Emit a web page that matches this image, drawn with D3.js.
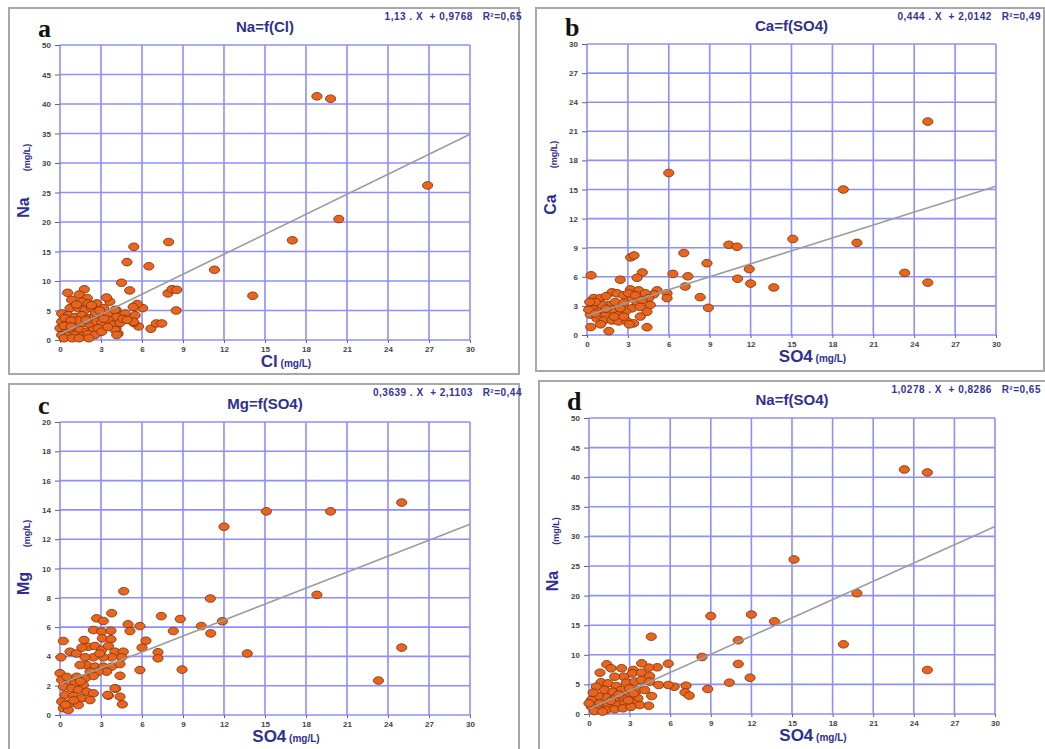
<!DOCTYPE html>
<html>
<head>
<meta charset="utf-8">
<script src="https://cdn.jsdelivr.net/npm/d3@7"></script>
<style>
  body { margin: 0; background: #fff; }
  svg { display: block; font-family: "Liberation Sans", Arial, sans-serif; }
</style>
</head>
<body>
<div id="chart"></div>
<script>
// tick values
const xTicks = [0, 3, 6, 9, 12, 15, 18, 21, 24, 27, 30];
const naTicks = [0, 5, 10, 15, 20, 25, 30, 35, 40, 45, 50];
const caTicks = [0, 3, 6, 9, 12, 15, 18, 21, 24, 27, 30];
const mgTicks = [0, 2, 4, 6, 8, 10, 12, 14, 16, 18, 20];

// panel texts
const panelLetters = ["a", "b", "c", "d"];
const panelTitles = ["Na=f(Cl)", "Ca=f(SO4)", "Mg=f(SO4)", "Na=f(SO4)"];
const yNames = ["Na", "Ca", "Mg", "Na"];
const xNames = ["Cl", "SO4", "SO4", "SO4"];
const fitLabels = [
    "1,13 . X  + 0,9768   R\u00b2=0,65",
    "0,444 . X  + 2,0142   R\u00b2=0,49",
    "0,3639 . X  + 2,1103   R\u00b2=0,44",
    "1,0278 . X  + 0,8286   R\u00b2=0,65"
];
const fitSlopes = [1.13, 0.444, 0.3639, 1.0278];
const fitIntercepts = [0.9768, 2.0142, 2.1103, 0.8286];

// points [x, y] in mg/L
const naClPoints = [
    [18.8,41.3],[19.8,40.9],[26.9,26.2],[20.4,20.5],[17.0,16.9],[14.1,7.5],[11.3,11.9],[7.95,16.6],
    [5.4,15.8],[4.9,13.2],[6.5,12.5],[4.5,9.7],[5.1,8.4],[7.9,7.9],[8.2,8.6],[8.55,8.5],[8.5,5.0],
    [6.65,1.9],[7.05,2.8],[7.45,2.8],[6.05,5.4],[5.65,6.1],[5.35,5.6],[5.75,2.3],[5.4,2.9],[4.25,1.1],
    [4.1,2.0],[4.1,5.1],[3.65,6.5],[3.4,7.2],
    [0.56,8.0],[1.78,8.6],[1.4,7.7],[0.85,6.8],[2.0,7.1],[1.6,6.5],[2.07,6.2],[2.7,6.2],[0.73,5.4],
    [1.34,5.4],[1.83,5.1],[2.32,5.4],[0.12,4.5],[0.6,4.2],[1.1,3.9],[1.6,4.2],[2.07,3.7],[2.56,3.9],
    [3.17,4.2],[3.54,4.5],[4.02,5.1],[4.15,3.9],[4.76,4.5],[5.5,4.2],[5.37,3.1],[0.12,3.1],[0.61,2.9],
    [1.1,2.6],[1.71,2.9],[2.2,2.6],[2.68,3.1],[3.05,2.9],[3.54,3.4],[3.9,2.6],[4.39,2.9],[4.02,1.7],
    [4.15,0.85],[0.0,2.0],[0.49,1.7],[0.98,1.4],[1.46,1.7],[1.95,1.4],[2.44,1.7],[2.8,2.0],[0.12,0.85],
    [0.61,0.7],[1.1,0.85],[1.59,0.7],[2.07,1.0],[2.56,0.85],[3.05,1.4],[0.37,3.7],[2.3,5.9],[1.2,6.0],
    [0.3,0.3],[0.9,0.3],[1.4,0.3],[2.1,0.3],[2.6,4.6],[3.2,3.6],[3.5,2.2],[1.3,3.3],[0.8,3.3],[1.9,3.4],
    [0.3,2.4],[0.8,2.3],[3.2,5.4],[2.9,5.0],[4.6,3.6],[4.9,3.4]
];
const caSo4Points = [
    [25.0,22.0],[6.0,16.7],[18.8,15.0],[15.1,9.9],[19.8,9.5],[10.4,9.3],[11.0,9.1],[23.3,6.4],[25.0,5.4],
    [7.1,8.45],[8.8,7.4],[11.9,6.8],[6.3,6.3],[7.4,6.05],[11.05,5.8],[12.0,5.3],[13.7,4.9],[7.2,5.0],
    [8.3,3.9],[8.9,2.8],[3.2,8.0],[3.45,8.2],[0.3,6.15],[2.44,5.7],[4.06,6.45],[3.67,5.9],[5.87,4.3],
    [5.87,3.8],[5.14,4.6],[4.9,4.2],[4.4,0.8],[1.6,0.4],[0.27,0.82],
    [0.49,3.8],[0.98,3.8],[1.83,4.4],[2.2,4.3],[2.69,4.1],[3.18,4.7],[3.79,4.6],[4.28,4.3],[4.52,3.8],
    [4.64,3.1],[4.4,2.4],[3.91,1.9],[1.59,3.1],[2.08,3.4],[2.69,3.3],[3.3,3.8],[3.67,3.3],[3.3,2.75],
    [2.81,2.4],[2.32,2.1],[1.83,2.6],[1.34,2.2],[0.86,2.6],[0.37,2.9],[0.24,2.1],[0.73,1.7],[1.22,1.5],
    [1.83,1.5],[2.32,1.4],[2.93,1.4],[3.42,1.2],[0.12,2.6],[0.61,2.2],[1.1,3.1],[2.44,2.75],[3.05,4.3],
    [3.54,4.1],[4.03,3.6],[1.4,4.0],[0.6,3.4],[2.0,1.9],[1.0,1.1],[2.7,1.9],[3.9,2.9],[0.2,3.4],
    [3.1,1.1],[1.4,2.7]
];
const mgSo4Points = [
    [25.0,14.5],[15.1,13.9],[19.8,13.9],[12.0,12.85],[18.8,8.2],[11.0,7.95],[4.66,8.45],[3.78,6.95],
    [7.41,6.75],[8.8,6.55],[11.88,6.4],[10.34,6.07],[8.29,5.73],[11.03,5.57],[13.7,4.2],[25.0,4.6],
    [23.3,2.35],[8.93,3.1],[7.17,4.28],[7.17,3.87],[5.85,3.07],[6.29,5.07],[6.0,4.6],[5.85,6.07],
    [4.98,6.19],[5.12,5.73],[4.39,2.68],[4.56,0.73],[4.39,1.25],[4.07,1.8],[3.54,1.32],
    [2.68,6.6],[3.17,6.42],[2.44,5.8],[3.05,5.69],[3.73,5.75],[3.1,5.23],[3.73,5.17],[1.76,5.12],
    [0.24,5.05],[0.07,3.94],[0.73,4.32],[2.07,4.66],[2.56,4.71],[3.05,4.44],[3.54,4.71],[4.02,4.32],
    [4.63,4.32],[4.51,3.94],[3.78,3.94],[3.17,3.94],[2.44,3.94],[1.83,3.94],[1.95,3.41],[2.56,3.3],
    [3.17,3.3],[3.78,3.3],[4.39,3.48],[3.41,2.96],[2.8,2.96],[2.2,2.96],[1.46,3.41],[2.44,2.66],
    [1.83,2.5],[1.22,2.61],[0.0,2.85],[0.12,2.39],[0.61,2.16],[1.1,2.16],[1.71,2.05],[0.24,1.93],
    [0.86,1.82],[1.34,1.71],[1.95,1.59],[2.44,1.48],[0.37,1.37],[0.97,1.3],[1.59,1.14],[2.2,1.02],
    [0.12,0.91],[0.73,0.8],[1.34,0.68],[0.24,0.46],[0.61,0.34],[3.49,1.37],[4.02,1.82],[0.5,2.6],
    [1.0,1.0],[0.4,0.7],[1.5,2.3],[2.9,4.2],[1.2,4.2],[1.6,4.6]
];
const naSo4Points = [
    [23.3,41.3],[25.0,40.8],[15.15,26.1],[19.8,20.4],[12.0,16.8],[9.0,16.55],[13.7,15.65],[4.6,13.06],
    [11.03,12.45],[18.8,11.77],[25.0,7.43],[8.35,9.63],[11.03,8.45],[10.37,5.29],[11.9,6.13],[8.77,4.22],
    [7.17,4.78],[7.09,3.66],[7.41,3.1],[6.3,4.61],[5.86,4.9],[5.86,8.5],[5.15,4.9],[5.05,7.89],
    [4.43,7.83],[3.89,8.56],[4.41,1.4],[4.63,3.04],[4.43,5.86],[3.27,7.43],[2.41,7.72],[1.31,8.39],
    [1.63,7.72],[0.81,6.98],[0.89,5.35],
    [3.2,6.87],[3.87,6.98],[4.48,6.42],[2.56,6.3],[1.9,6.3],[2.76,5.29],[3.38,5.46],[3.87,5.74],
    [4.48,5.46],[0.54,4.61],[1.4,5.18],[2.02,4.73],[1.16,4.05],[1.77,3.77],[2.39,4.05],[3.0,4.34],
    [3.62,4.05],[4.12,4.05],[3.62,2.65],[3.0,3.04],[2.51,2.65],[1.9,2.65],[1.28,2.82],[0.67,3.04],
    [0.17,2.36],[0.79,1.8],[1.4,1.52],[2.02,1.52],[2.64,1.8],[3.25,1.8],[3.75,1.52],[0.17,1.24],
    [0.67,0.79],[1.28,0.68],[1.9,0.79],[2.51,0.96],[0.0,1.8],[0.4,0.5],[1.0,0.4],[3.1,1.2],[2.2,3.3],
    [3.3,3.5],[0.3,3.6],[1.6,2.2],[2.9,2.3]
];

const panelPoints = [naClPoints, caSo4Points, mgSo4Points, naSo4Points];
const panelYTicks = [naTicks, caTicks, mgTicks, naTicks];

// layout of the four panels (frame box and plot box in px)
const layout = [
    { frame: [9, 8, 519, 374], plot: [60, 45, 470, 340] },
    { frame: [536, 8, 1044, 371], plot: [587, 44, 996, 335] },
    { frame: [9, 384, 519, 752], plot: [60, 422, 470, 715] },
    { frame: [539, 381, 1048, 752], plot: [589, 418, 995, 714] }
];

const navy = "#2f2f92";
const gridColor = "#8e8eff";

const svg = d3.select("#chart").append("svg")
    .attr("width", 1045)
    .attr("height", 749);

svg.append("rect").attr("width", 1045).attr("height", 749).attr("fill", "#fff");

function drawPanel(i) {
    let L = layout[i];
    let [px0, py0, px1, py1] = L.plot;
    let yTicks = panelYTicks[i];
    let g = svg.append("g");

    // outer frame
    g.append("rect")
        .attr("x", L.frame[0])
        .attr("y", L.frame[1])
        .attr("width", L.frame[2] - L.frame[0])
        .attr("height", L.frame[3] - L.frame[1])
        .attr("fill", "none")
        .attr("stroke", "#a8a8a8")
        .attr("stroke-width", 2);

    let x = d3.scaleLinear().domain([0, 30]).range([px0, px1]);
    let y = d3.scaleLinear().domain([0, d3.max(yTicks)]).range([py1, py0]);

    // grid
    g.selectAll(".vgrid").data(xTicks).enter().append("line")
        .attr("x1", d => x(d)).attr("x2", d => x(d))
        .attr("y1", py0).attr("y2", py1)
        .attr("stroke", gridColor).attr("stroke-width", 1.6);
    g.selectAll(".hgrid").data(yTicks).enter().append("line")
        .attr("x1", px0).attr("x2", px1)
        .attr("y1", d => y(d)).attr("y2", d => y(d))
        .attr("stroke", gridColor).attr("stroke-width", 1.6);

    // axes
    let ya = g.append("g")
        .attr("transform", `translate(${px0},0)`)
        .call(d3.axisLeft(y).tickValues(yTicks).tickSize(5).tickPadding(4));
    let xa = g.append("g")
        .attr("transform", `translate(0,${py1})`)
        .call(d3.axisBottom(x).tickValues(xTicks).tickSize(3).tickPadding(3));
    [ya, xa].forEach(a => {
        a.select(".domain").remove();
        a.selectAll(".tick line").attr("stroke", "#666");
        a.selectAll(".tick text")
            .attr("fill", "#444")
            .style("font-size", "8px")
            .style("font-weight", "bold")
            .style("font-family", "'Liberation Sans', Arial, sans-serif");
    });

    // points
    g.selectAll(".pt").data(panelPoints[i]).enter().append("ellipse")
        .attr("cx", d => x(d[0]))
        .attr("cy", d => y(d[1]))
        .attr("rx", 5.1)
        .attr("ry", 3.8)
        .attr("fill", "#e8651f")
        .attr("stroke", "#8a3508")
        .attr("stroke-width", 0.9);

    // regression line
    let a = fitSlopes[i], b = fitIntercepts[i];
    g.append("path")
        .datum([0, 30])
        .attr("d", d3.line().x(d => x(d)).y(d => y(a * d + b)))
        .attr("stroke", "#9c9c9c")
        .attr("stroke-width", 1.6)
        .attr("fill", "none");

    let cx = (px0 + px1) / 2;

    // title
    g.append("text")
        .attr("x", cx)
        .attr("y", py0 - 13)
        .attr("text-anchor", "middle")
        .attr("fill", navy)
        .style("font-size", "15px")
        .style("font-weight", "bold")
        .text(panelTitles[i]);

    // equation (kept inside the page width)
    g.append("text")
        .attr("x", Math.min(px1 + 52, 1041))
        .attr("y", L.frame[1] + 12)
        .attr("text-anchor", "end")
        .attr("fill", "#34349a")
        .style("font-size", "10px")
        .style("font-weight", "bold")
        .style("letter-spacing", "0.5px")
        .style("white-space", "pre")
        .text(fitLabels[i]);

    // panel letter
    g.append("text")
        .attr("x", px0 - 22)
        .attr("y", py0 - 8)
        .attr("fill", "#111")
        .style("font-family", "'Liberation Serif', 'DejaVu Serif', serif")
        .style("font-size", "26px")
        .style("font-weight", "bold")
        .text(panelLetters[i]);

    // y label
    let ymid = (py0 + py1) / 2;
    g.append("text")
        .attr("transform", `translate(${px0 - 31},${ymid + 15}) rotate(-90)`)
        .attr("text-anchor", "middle")
        .attr("fill", navy)
        .style("font-size", "16px")
        .style("font-weight", "bold")
        .text(yNames[i]);
    g.append("text")
        .attr("transform", `translate(${px0 - 30},${ymid - 35}) rotate(-90)`)
        .attr("text-anchor", "middle")
        .attr("fill", navy)
        .style("font-size", "9px")
        .style("font-weight", "bold")
        .text("(mg/L)");

    // x label
    let xl = g.append("text")
        .attr("x", cx + 21)
        .attr("y", py1 + 27)
        .attr("text-anchor", "middle")
        .attr("fill", navy)
        .style("font-weight", "bold");
    xl.append("tspan").style("font-size", "17px").text(xNames[i]);
    xl.append("tspan").style("font-size", "10px").text(" (mg/L)");
}

for (let i = 0; i < 4; i++) {
    drawPanel(i);
}
</script>
</body>
</html>
